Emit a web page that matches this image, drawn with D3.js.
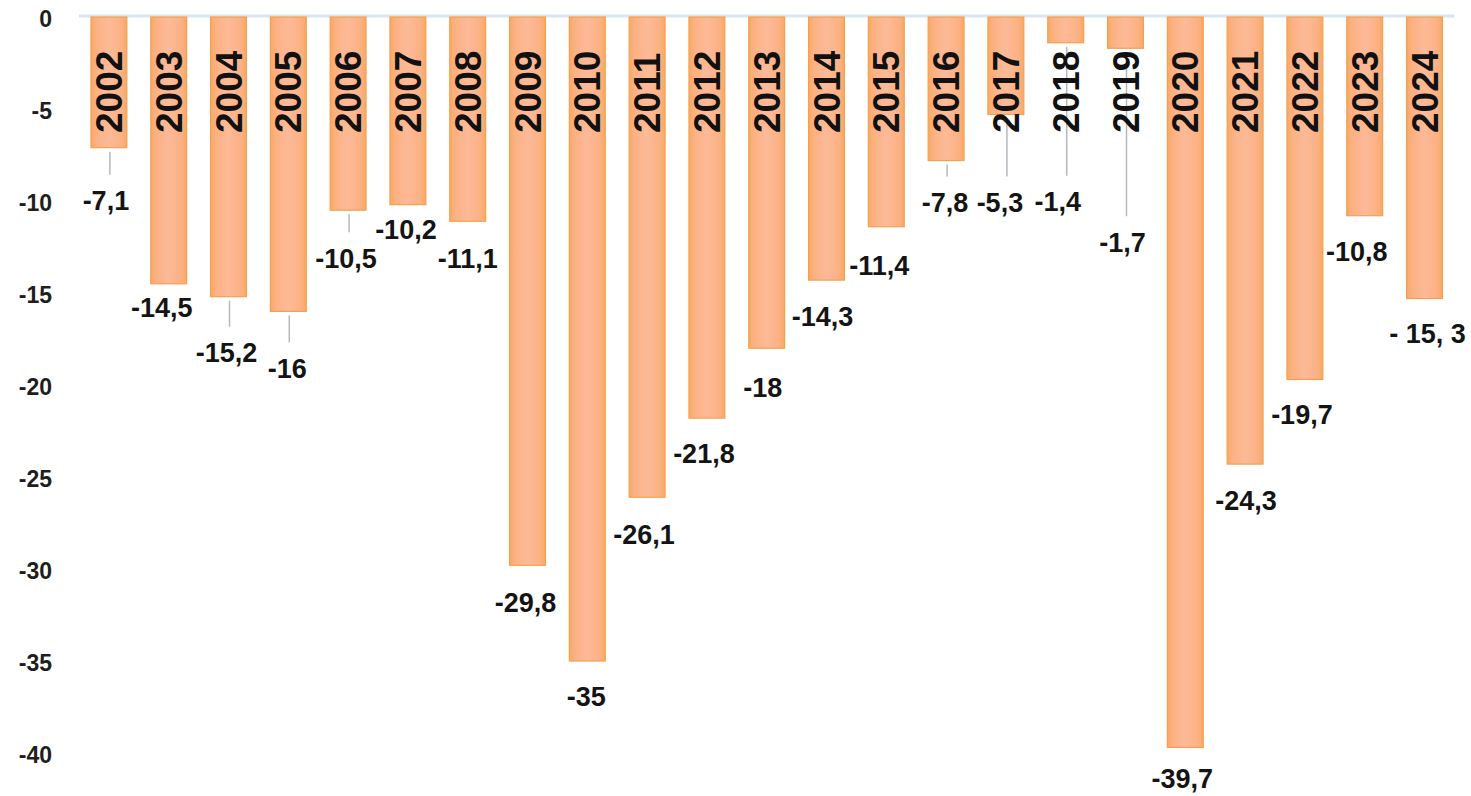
<!DOCTYPE html>
<html>
<head>
<meta charset="utf-8">
<script src="https://cdn.jsdelivr.net/npm/d3@7/dist/d3.min.js"></script>
<style>
  html, body { margin: 0; padding: 0; background: #ffffff; }
  svg { display: block; }
  text { font-family: "Liberation Sans", Arial, sans-serif; font-weight: bold; }
</style>
</head>
<body>
<svg id="chart" width="1471" height="796"></svg>
<script>
// ---- data ----
const years = ["2002","2003","2004","2005","2006","2007","2008","2009","2010","2011","2012",
               "2013","2014","2015","2016","2017","2018","2019","2020","2021","2022","2023","2024"];
const values = [-7.1,-14.5,-15.2,-16,-10.5,-10.2,-11.1,-29.8,-35,-26.1,-21.8,
                -18,-14.3,-11.4,-7.8,-5.3,-1.4,-1.7,-39.7,-24.3,-19.7,-10.8,-15.3];
const valueLabels = ["-7,1","-14,5","-15,2","-16","-10,5","-10,2","-11,1","-29,8","-35","-26,1","-21,8",
                     "-18","-14,3","-11,4","-7,8","-5,3","-1,4","-1,7","-39,7","-24,3","-19,7","-10,8","- 15, 3"];
const yTicks = [0,-5,-10,-15,-20,-25,-30,-35,-40];

// ---- layout (label placement relative to bar end, in px) ----
const labelOffsets = [
  [-3,53],[-7,24],[-2,56],[-1,57],[-2,48],[-2,25],[0,37],[-2,37],[-1,36],[-3,37],[-3,35],
  [-4,39],[-4,36],[-7,39],[-1,42],[-6,88],[-8,159],[-3,194],[-3,31],[1,36],[-3,35],[-8,36],[3,35]
];
const leaders = [true,false,true,true,true,false,false,false,false,false,false,
                 false,false,false,true,true,true,true,false,false,false,false,false];

const svg = d3.select("#chart");

const x = d3.scaleBand().domain(years).range([79, 1454.4]).paddingInner(0.4).paddingOuter(0.2);
const y = d3.scaleLinear().domain([0, -40]).range([17, 753]);

// gradient for bars
const defs = svg.append("defs");
const grad = defs.append("linearGradient").attr("id", "barGrad").attr("x1", "0").attr("x2", "1").attr("y1", "0").attr("y2", "0");
grad.append("stop").attr("offset", "0%").attr("stop-color", "#f8a964");
grad.append("stop").attr("offset", "15%").attr("stop-color", "#fcb183");
grad.append("stop").attr("offset", "50%").attr("stop-color", "#fdba98");
grad.append("stop").attr("offset", "85%").attr("stop-color", "#fcb183");
grad.append("stop").attr("offset", "100%").attr("stop-color", "#f8a964");

// zero line
svg.append("line")
  .attr("x1", x.range()[0]).attr("x2", x.range()[1])
  .attr("y1", y(0) - 1).attr("y2", y(0) - 1)
  .attr("stroke", "#d8e7f1").attr("stroke-width", 3);

// y axis labels
const yAxis = d3.axisLeft(y).tickValues(yTicks).tickSize(0).tickPadding(0).tickFormat(d => d === 0 ? "0" : String(d));
const gy = svg.append("g").attr("transform", "translate(52,2)").call(yAxis);
gy.select(".domain").remove();
gy.selectAll("text").attr("font-size", 23).attr("fill", "#1e1e1e")
  .attr("font-family", "'Liberation Sans', Arial, sans-serif").attr("font-weight", "bold");

// bars
svg.append("g").selectAll("rect").data(years).join("rect")
  .attr("x", d => x(d))
  .attr("y", y(0))
  .attr("width", x.bandwidth())
  .attr("height", (d, i) => y(values[i]) - y(0))
  .attr("fill", "url(#barGrad)")
  .attr("stroke", "#f4a14f").attr("stroke-width", 1.2);

// leader lines
svg.append("g").selectAll("line").data(years.filter((d, i) => leaders[i])).join("line")
  .each(function(d) {
    const i = years.indexOf(d);
    const cx = x(d) + x.bandwidth() / 2 + 1;
    const yb = y(values[i]);
    d3.select(this)
      .attr("x1", cx).attr("x2", cx)
      .attr("y1", yb + 4).attr("y2", yb + labelOffsets[i][1] - 26);
  })
  .attr("stroke", "#b4b8bc").attr("stroke-width", 1.5);

// year labels inside bars (rotated)
svg.append("g").selectAll("text").data(years).join("text")
  .attr("transform", d => `translate(${x(d) + x.bandwidth() / 2 + 13},133) rotate(-90)`)
  .attr("text-anchor", "start")
  .attr("font-size", 37)
  .attr("fill", "#111")
  .text(d => d);

// value labels
svg.append("g").selectAll("text").data(years).join("text")
  .attr("x", (d, i) => x(d) + x.bandwidth() / 2 + labelOffsets[i][0])
  .attr("y", (d, i) => y(values[i]) + labelOffsets[i][1])
  .attr("dy", "0.35em")
  .attr("text-anchor", "middle")
  .attr("font-size", 27)
  .attr("fill", "#141414")
  .text((d, i) => valueLabels[i]);
</script>
</body>
</html>
